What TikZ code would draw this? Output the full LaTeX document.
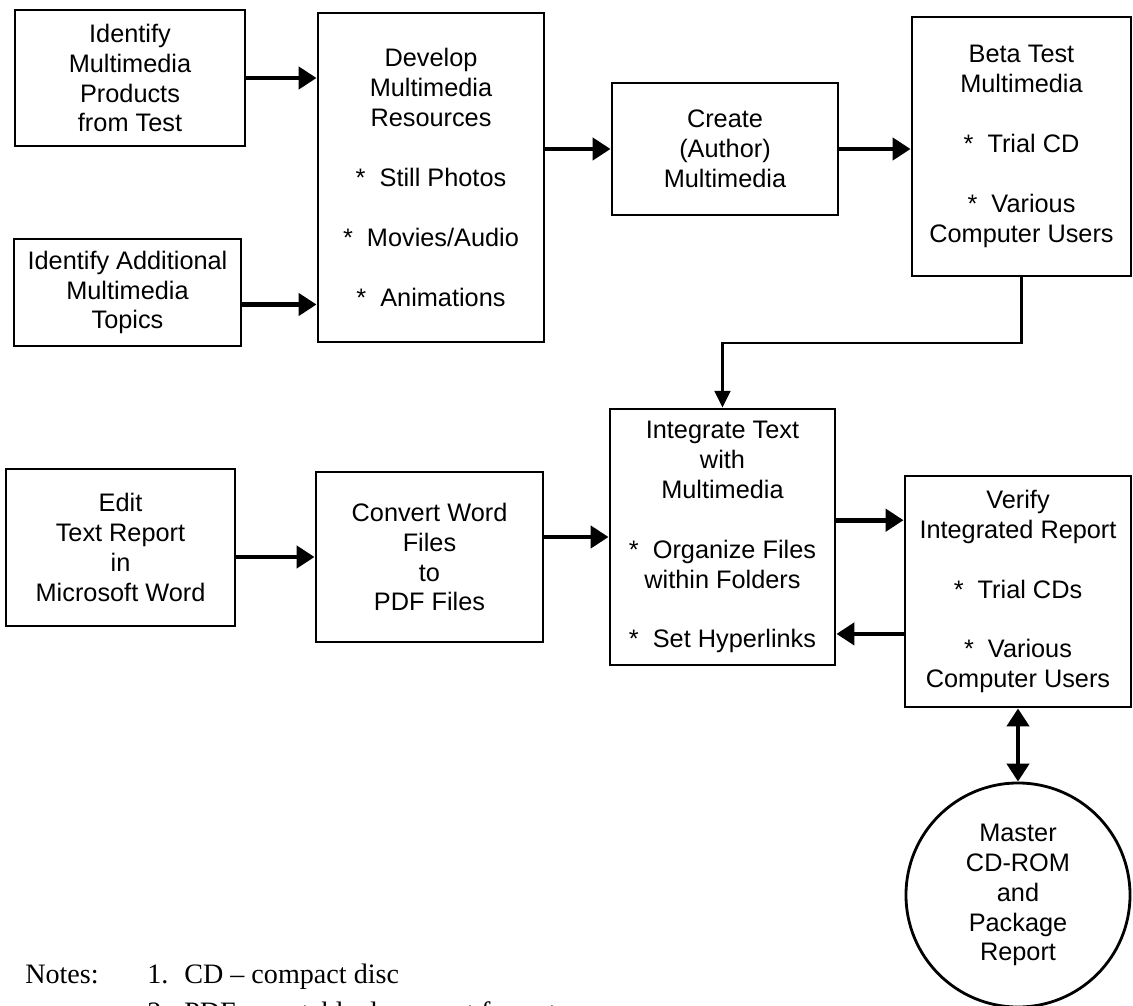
\documentclass[tikz,border=0pt]{standalone}
\usepackage{fontspec}
\setmainfont{Liberation Sans}
\newfontfamily\notefont{Liberation Serif}
\usetikzlibrary{arrows.meta}

\begin{document}
\begin{tikzpicture}[x=0.025cm, y=-0.025cm,
  box/.style={draw, line width=2pt, align=center, inner sep=2pt,
    font=\fontsize{18}{21.3}\selectfont},
  arr/.style={line width=3.4pt, -{Triangle[length=0.45cm, width=0.55cm]}},
  thinarr/.style={line width=1.6pt, -{Triangle[length=0.42cm, width=0.4cm]}},
  note/.style={anchor=base west, inner sep=0pt, font=\notefont\fontsize{20}{24}\selectfont}]
% Blank line between groups of text
\def\gap{21.3pt}

% Page size of the chart (pixels)
\useasboundingbox (0,0) rectangle (1133,1006);

% Top row
\node[box, minimum width=5.75cm, minimum height=3.4cm] (prodbox) at (130,78)
  {Identify\\Multimedia\\Products\\from Test};
\node[box, minimum width=5.675cm, minimum height=2.675cm] (topicbox) at (127.5,292.5)
  {Identify Additional\\Multimedia\\Topics};
\node[box, minimum width=5.65cm, minimum height=8.225cm] (devbox) at (431,177.5)
  {Develop\\Multimedia\\Resources\\[\gap]*~ Still Photos\\[\gap]*~ Movies/Audio\\[\gap]*~ Animations};
\node[box, minimum width=5.65cm, minimum height=3.3cm] (createbox) at (725,149)
  {Create\\(Author)\\Multimedia};
\node[box, minimum width=5.475cm, minimum height=6.475cm] (betabox) at (1021.5,146.5)
  {Beta Test\\Multimedia\\[\gap]*~ Trial CD\\[\gap]*~ Various\\Computer Users};

% Bottom row
\node[box, minimum width=5.725cm, minimum height=3.925cm] (editbox) at (120.5,547.5)
  {Edit\\Text Report\\in\\Microsoft Word};
\node[box, minimum width=5.675cm, minimum height=4.25cm] (convbox) at (429.5,557)
  {Convert Word\\Files\\to\\PDF Files};
\node[box, minimum width=5.625cm, minimum height=6.4cm] (intbox) at (722.5,537)
  {Integrate Text\\with\\Multimedia\\[\gap]*~ Organize Files\\within Folders\\[\gap]*~ Set Hyperlinks};
\node[box, minimum width=5.65cm, minimum height=5.775cm] (verbox) at (1018,591.5)
  {Verify\\Integrated Report\\[\gap]*~ Trial CDs\\[\gap]*~ Various\\Computer Users};
\node[box, circle, minimum size=5.6cm] (master) at (1018,895)
  {Master\\CD-ROM\\and\\Package\\Report};

% Arrows
\draw[arr] (prodbox.east) -- (prodbox.east -| devbox.west);
\draw[arr] ([yshift=-0.3cm]topicbox.east) -- ([yshift=-0.3cm]topicbox.east -| devbox.west);
\draw[arr] (createbox.west -| devbox.east) -- (createbox.west);
\draw[arr] (createbox.east) -- (createbox.east -| betabox.west);
\draw[thinarr] (betabox.south) -- (betabox.south |- 0,343) -| (intbox.north);
\draw[arr] (convbox.west -| editbox.east) -- (convbox.west);
\draw[arr] (intbox.west -| convbox.east) -- (intbox.west);
\draw[arr] ([yshift=0.42cm]intbox.east) -- ([yshift=0.42cm]intbox.east -| verbox.west);
\draw[arr] ([yshift=-1.06cm]verbox.west) -- ([yshift=-1.06cm]verbox.west -| intbox.east);
\draw[arr, {Triangle[length=0.45cm, width=0.55cm]}-{Triangle[length=0.45cm, width=0.55cm]}]
  (verbox.south) -- (master.north);

% Notes
\node[note] (notes) at (25,983) {Notes:};
\node[note] (num1) at (147,983) {1.};
\node[note] (note1) at (184,983) {CD – compact disc};
\node[note] (num2) at (147,1021) {2.};
\node[note] (note2) at (184,1021) {PDF – portable document format};

\end{tikzpicture}
\end{document}
